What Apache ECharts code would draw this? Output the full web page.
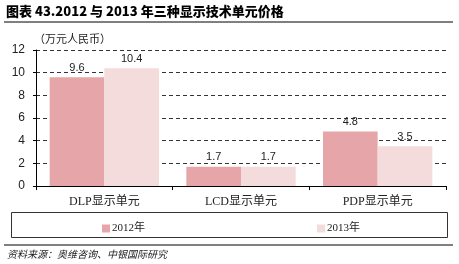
<!DOCTYPE html>
<html><head><meta charset="utf-8">
<script src="https://cdn.jsdelivr.net/npm/echarts@6/dist/echarts.min.js"></script>
<style>html,body{margin:0;padding:0;background:#fff}#c{width:459px;height:264px}</style>
</head><body><div id="c"></div>
<script>
const categories = ['DLP显示单元', 'LCD显示单元', 'PDP显示单元'];
const seriesNames = ['2012年', '2013年'];
const values2012 = [9.6, 1.7, 4.8];
const values2013 = [10.4, 1.7, 3.5];
const yTicks = { min: 0, max: 12, interval: 2 };
const titleText = '图表 43.2012 与 2013 年三种显示技术单元价格';
const unitText = '（万元人民币）';
const sourceText = '资料来源：奥维咨询、中银国际研究';

const chart = echarts.init(document.getElementById('c'), null, { renderer: 'canvas' });
const labelStyle = { show: true, position: 'top', color: '#222', fontSize: 11, fontFamily: 'Liberation Sans, Arial', distance: 4 };
chart.setOption({
  animation: false,
  grid: { left: 36, right: 13, top: 50, bottom: 78, containLabel: false },
  graphic: [
    { type: 'text', left: 6, top: 5, style: { text: titleText, fontSize: 13, fontWeight: 900, fill: '#000', fontFamily: 'Noto Sans CJK SC' } },
    { type: 'line', shape: { x1: 4, y1: 22, x2: 453, y2: 22 }, style: { stroke: '#000', lineWidth: 1 } },
    { type: 'text', left: 34, top: 33, style: { text: unitText, fontSize: 11, fill: '#222', fontFamily: 'Noto Sans CJK SC' } },
    { type: 'rect', shape: { x: 11.5, y: 212.5, width: 436, height: 25 }, style: { fill: 'none', stroke: '#333', lineWidth: 1 } },
    { type: 'line', shape: { x1: 4, y1: 245, x2: 453, y2: 245 }, style: { stroke: '#000', lineWidth: 1 } },
    { type: 'text', left: 7, top: 249, style: { text: sourceText, fontSize: 10, fontStyle: 'italic', fill: '#222', fontFamily: 'Noto Sans CJK SC' } }
  ],
  legend: {
    data: seriesNames, left: 97, top: 218, itemWidth: 8, itemHeight: 8, itemGap: 172, icon: 'rect',
    textStyle: { fontSize: 11, color: '#222', fontFamily: 'Liberation Serif, Noto Sans CJK SC', padding: [0, 0, 0, -3] }
  },
  xAxis: {
    type: 'category', data: categories,
    axisLine: { lineStyle: { color: '#000', width: 1 } },
    axisTick: { show: true, length: 4, lineStyle: { color: '#000' } },
    axisLabel: { color: '#222', fontSize: 12, margin: 10, fontFamily: 'Liberation Serif, Noto Sans CJK SC' }
  },
  yAxis: {
    type: 'value', min: yTicks.min, max: yTicks.max, interval: yTicks.interval,
    axisLine: { show: true, lineStyle: { color: '#000', width: 1 } },
    axisTick: { show: true, length: 3, lineStyle: { color: '#000' } },
    axisLabel: { color: '#222', fontSize: 12, margin: 11, fontFamily: 'Liberation Sans, Arial' },
    splitLine: { show: true, lineStyle: { color: '#333', type: [4, 3], width: 1 } }
  },
  series: [
    { name: seriesNames[0], type: 'bar', data: values2012, barGap: '0%', barCategoryGap: '20%', itemStyle: { color: '#E6A6A9' }, label: labelStyle },
    { name: seriesNames[1], type: 'bar', data: values2013, itemStyle: { color: '#F3DCDB' }, label: labelStyle }
  ]
});
</script></body></html>
